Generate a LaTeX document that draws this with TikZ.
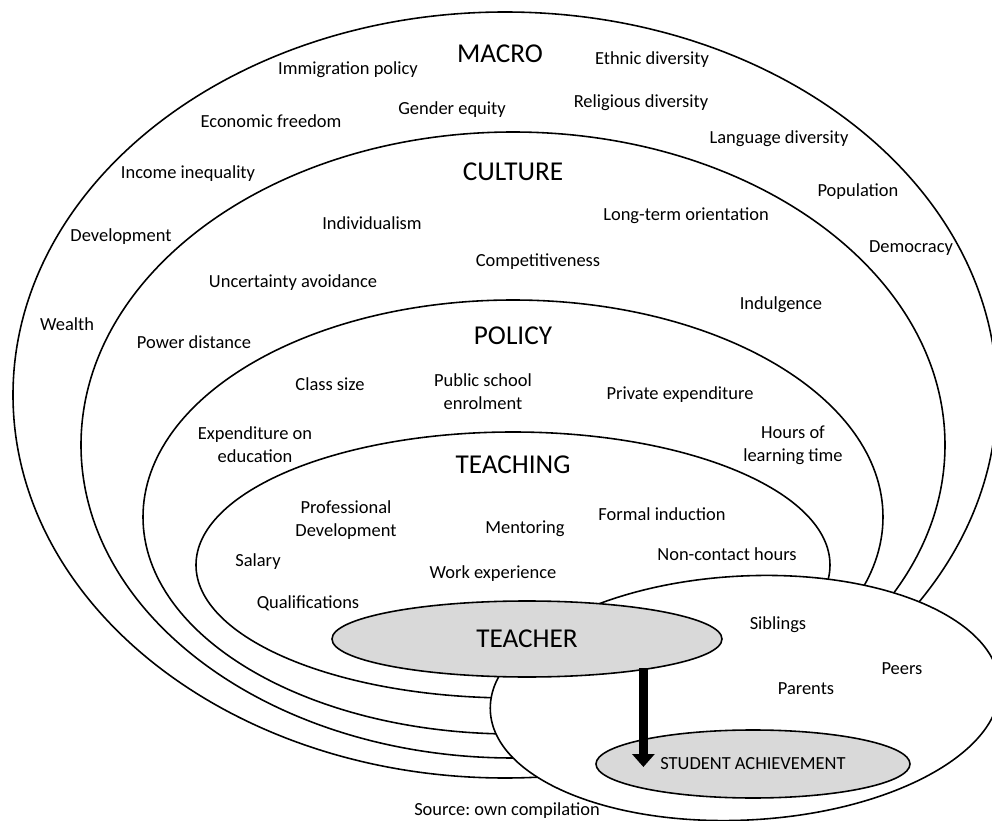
\documentclass[tikz,border=0pt]{standalone}
\usepackage{fontspec}
\setmainfont{Carlito}
\usetikzlibrary{shapes.geometric,arrows.meta,calc}
\frenchspacing
\begin{document}
\begin{tikzpicture}[x=0.02cm,y=-0.02cm,
  ring/.style={draw=black, line width=0.9pt, ellipse, inner sep=0pt, fill=white},
  core/.style={ring, fill=gray!30},
  lbl/.style={font=\fontsize{10.5}{13}\selectfont, align=center, inner sep=0pt},
  ttl/.style={font=\fontsize{15.5}{18}\selectfont, inner sep=0pt},
  bigarrow/.style={line width=5.4pt, -{Triangle[width=0.44cm,length=0.26cm]}}]
\useasboundingbox (0,0) rectangle (992,821);
% nested rings
\node[ring, minimum width={984*0.02cm}, minimum height={766*0.02cm}] (macro) at (505,395) {};
\node[ring, minimum width={864*0.02cm}, minimum height={626*0.02cm}] (culture) at (513,445) {};
\node[ring, minimum width={740*0.02cm}, minimum height={434*0.02cm}] (policy) at (513,517) {};
\node[ring, minimum width={634*0.02cm}, minimum height={266*0.02cm}] (teaching) at (513,565) {};
% student environment
\node[ring, rotate=3, minimum width={510*0.02cm}, minimum height={244*0.02cm}] (student) at (745,698) {};
% teacher and achievement
\node[core, ttl, minimum width={390*0.02cm}, minimum height={76*0.02cm}] (teacher) at (527,639) {TEACHER};
\node[core, lbl, minimum width={314*0.02cm}, minimum height={68*0.02cm}] (sa) at (753,764) {STUDENT ACHIEVEMENT};
\draw[bigarrow] ([yshift=1pt]teacher.-15.8) -- ($(teacher.-15.8 |- sa.center)+(0,3)$);
% titles
\node[ttl] (tmacro) at (500,54) {MACRO};
\node[ttl] (tculture) at (513,172) {CULTURE};
\node[ttl] (tpolicy) at (513,336) {POLICY};
\node[ttl] (tteaching) at (513,465) {TEACHING};
% macro labels
\node[lbl] (immig) at (348,70) {Immigration policy};
\node[lbl] (ethnic) at (652,60) {Ethnic diversity};
\node[lbl] (gender) at (452,110) {Gender equity};
\node[lbl] (relig) at (641,103) {Religious diversity};
\node[lbl] (econ) at (271,121) {Economic freedom};
\node[lbl] (lang) at (779,139) {Language diversity};
\node[lbl] (income) at (188,174) {Income inequality};
\node[lbl] (pop) at (858,192) {Population};
\node[lbl] (devel) at (121,237) {Development};
\node[lbl] (democ) at (911,248) {Democracy};
\node[lbl] (wealth) at (67,324) {Wealth};
% culture labels
\node[lbl] (lto) at (686,216) {Long-term orientation};
\node[lbl] (indiv) at (372,223) {Individualism};
\node[lbl] (compet) at (538,262) {Competitiveness};
\node[lbl] (uncert) at (293,283) {Uncertainty avoidance};
\node[lbl] (indulg) at (781,305) {Indulgence};
\node[lbl] (power) at (194,342) {Power distance};
% policy labels
\node[lbl] (class) at (330,384) {Class size};
\node[lbl] (public) at (483,392) {Public school\\enrolment};
\node[lbl] (private) at (680,395) {Private expenditure};
\node[lbl] (expend) at (255,445) {Expenditure on\\education};
\node[lbl] (hours) at (793,445) {Hours of\\learning time};
% teaching labels
\node[lbl] (prof) at (346,520) {Professional\\Development};
\node[lbl] (mentor) at (525,529) {Mentoring};
\node[lbl] (formal) at (662,514) {Formal induction};
\node[lbl] (salary) at (258,562) {Salary};
\node[lbl] (noncontact) at (727,554) {Non-contact hours};
\node[lbl] (work) at (493,574) {Work experience};
\node[lbl] (qual) at (308,603) {Qualifications};
% student labels
\node[lbl] (sibl) at (778,625) {Siblings};
\node[lbl] (peers) at (902,669) {Peers};
\node[lbl] (parents) at (806,689) {Parents};
\node[lbl] (source) at (507,811) {Source: own compilation};
\end{tikzpicture}
\end{document}
